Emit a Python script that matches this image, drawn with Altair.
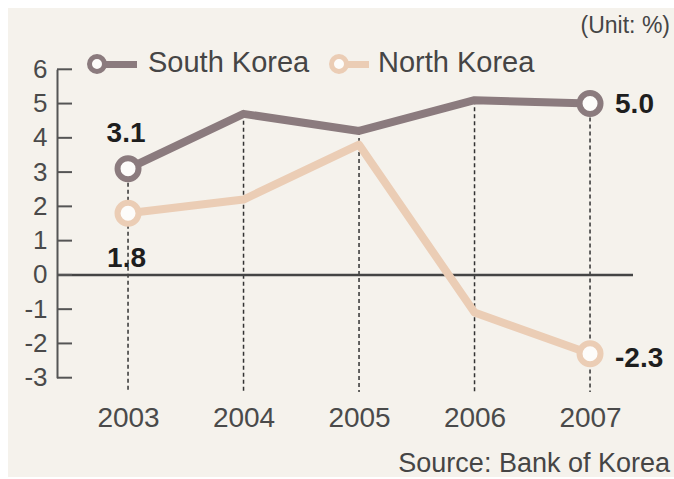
import altair as alt
import pandas as pd

# ---- data ----
years = [2003, 2004, 2005, 2006, 2007]
south_korea = [3.1, 4.7, 4.2, 5.1, 5.0]
north_korea = [1.8, 2.2, 3.8, -1.1, -2.3]
series_names = ["South Korea", "North Korea"]
series_colors = ["#8b7b7e", "#ebcdb5"]
y_ticks = [-3, -2, -1, 0, 1, 2, 3, 4, 5, 6]
unit_text = "(Unit: %)"
source_text = "Source: Bank of Korea"

FONT = "Liberation Sans, Arial, sans-serif"
W, H = 576, 308.4
PAD_L, PAD_T = 57, 69.3

long_df = pd.DataFrame(
    {
        "year": years * 2,
        "value": south_korea + north_korea,
        "series": [series_names[0]] * len(years) + [series_names[1]] * len(years),
    }
)
drop_df = pd.DataFrame(
    {"year": years, "top": [max(a, b) for a, b in zip(south_korea, north_korea)], "bottom": [-3.42] * len(years)}
)
tick_df = pd.DataFrame({"tick": y_ticks})

xs = alt.Scale(domain=[2002.385, 2007.372], nice=False, zero=False)
ys = alt.Scale(domain=[-3, 6], nice=False, zero=False)
cs = alt.Scale(domain=series_names, range=series_colors)

x_axis = alt.Axis(
    values=years, format="d", domain=False, ticks=False, tickSize=0, grid=False, title=None,
    labelFont=FONT, labelFontSize=28, labelColor="#4a4a4a", labelPadding=49,
    labelBaseline="alphabetic", zindex=1,
)
y_axis = alt.Axis(
    values=y_ticks, domain=True, domainColor="#555555", domainWidth=2, ticks=False, tickSize=0,
    grid=False, title=None, labelFont=FONT, labelFontSize=26, labelColor="#4a4a4a",
    labelPadding=10, labelExpr="'' + datum.value", zindex=1,
)

X = lambda f: alt.X(f, type="quantitative", scale=xs, axis=x_axis)
Y = lambda f: alt.Y(f, type="quantitative", scale=ys, axis=y_axis)

one = alt.Data(values=[{"a": 1}])

background = alt.Chart(one).mark_rect(color="#f5f2ec").encode(
    x=alt.value(8 - PAD_L), x2=alt.value(674 - PAD_L), y=alt.value(8 - PAD_T), y2=alt.value(477 - PAD_T)
)

drops = alt.Chart(drop_df).mark_rule(color="#333333", strokeWidth=1.5, strokeDash=[4, 3]).encode(
    x=X("year"), y=Y("top"), y2="bottom"
)

ticks = alt.Chart(tick_df).mark_rule(color="#555555", strokeWidth=2).encode(
    x=alt.value(0), x2=alt.value(15), y=Y("tick")
)

zero_line = alt.Chart(one).mark_rule(color="#444444", strokeWidth=2.5).encode(
    y=alt.Y(datum=0, type="quantitative", scale=ys, axis=y_axis)
)

lines = alt.Chart(long_df).mark_line(strokeWidth=8, strokeJoin="round").encode(
    x=X("year"), y=Y("value"),
    color=alt.Color("series:N", scale=cs, legend=None),
    detail="series:N",
)

markers = alt.Chart(long_df).transform_filter(
    alt.FieldOneOfPredicate(field="year", oneOf=[years[0], years[-1]])
).mark_point(shape="circle", filled=False, fill="#fdfcfa", fillOpacity=1, opacity=1, size=441, strokeWidth=6).encode(
    x=X("year"), y=Y("value"),
    stroke=alt.Stroke("series:N", scale=cs, legend=None),
)


def value_label(series, year, dx, dy, align):
    return alt.Chart(long_df).transform_filter(
        (alt.datum.series == series) & (alt.datum.year == year)
    ).transform_calculate(
        label="toString(datum.value) + (datum.value % 1 == 0 ? '.0' : '')"
    ).mark_text(
        font=FONT, fontSize=28, fontWeight="bold", color="#1e1e1e", align=align,
        baseline="alphabetic", dx=dx, dy=dy,
    ).encode(x=X("year"), y=Y("value"), text="label:N")


labels = [
    value_label(series_names[0], years[0], -2, -26.7, "center"),
    value_label(series_names[1], years[0], -1.5, 53.8, "center"),
    value_label(series_names[0], years[-1], 25, 9.4, "left"),
    value_label(series_names[1], years[-1], 25, 13.3, "left"),
]


def legend_item(i, cx, stub_end, text_x):
    name, color = series_names[i], series_colors[i]
    d = alt.Data(values=[{"name": name}])
    stub = alt.Chart(d).mark_rule(color=color, strokeWidth=7).encode(
        x=alt.value(cx), x2=alt.value(stub_end), y=alt.value(-4.8), y2=alt.value(-4.8)
    )
    circ = alt.Chart(d).mark_point(
        shape="circle", filled=False, fill="#fdfcfa", fillOpacity=1, opacity=1, size=225, strokeWidth=5, stroke=color
    ).encode(x=alt.value(cx), y=alt.value(-5.3))
    txt = alt.Chart(d).mark_text(
        font=FONT, fontSize=29, color="#454545", align="left", baseline="alphabetic"
    ).encode(x=alt.value(text_x), y=alt.value(2.7), text="name:N")
    return [stub, circ, txt]


legend_layers = legend_item(0, 97 - PAD_L, 137 - PAD_L, 148 - PAD_L) + legend_item(
    1, 339 - PAD_L, 369 - PAD_L, 378 - PAD_L
)

unit = alt.Chart(alt.Data(values=[{"t": unit_text}])).mark_text(
    font=FONT, fontSize=23, color="#454545", align="right", baseline="alphabetic"
).encode(x=alt.value(670 - PAD_L), y=alt.value(33 - PAD_T), text="t:N")

source = alt.Chart(alt.Data(values=[{"t": source_text}])).mark_text(
    font=FONT, fontSize=27, color="#454545", align="right", baseline="alphabetic"
).encode(x=alt.value(670 - PAD_L), y=alt.value(472 - PAD_T), text="t:N")

chart = alt.layer(
    background, drops, zero_line, ticks, lines, markers, *labels, *legend_layers, unit, source
).properties(
    width=W, height=H,
    autosize=alt.AutoSizeParams(type="none"),
    padding={"left": PAD_L, "top": PAD_T, "right": 674 - PAD_L - W, "bottom": 479 - PAD_T - H},
    background="white",
).configure_view(stroke=None)

chart.save("out.html", embed_options={"renderer": "svg", "actions": False})
